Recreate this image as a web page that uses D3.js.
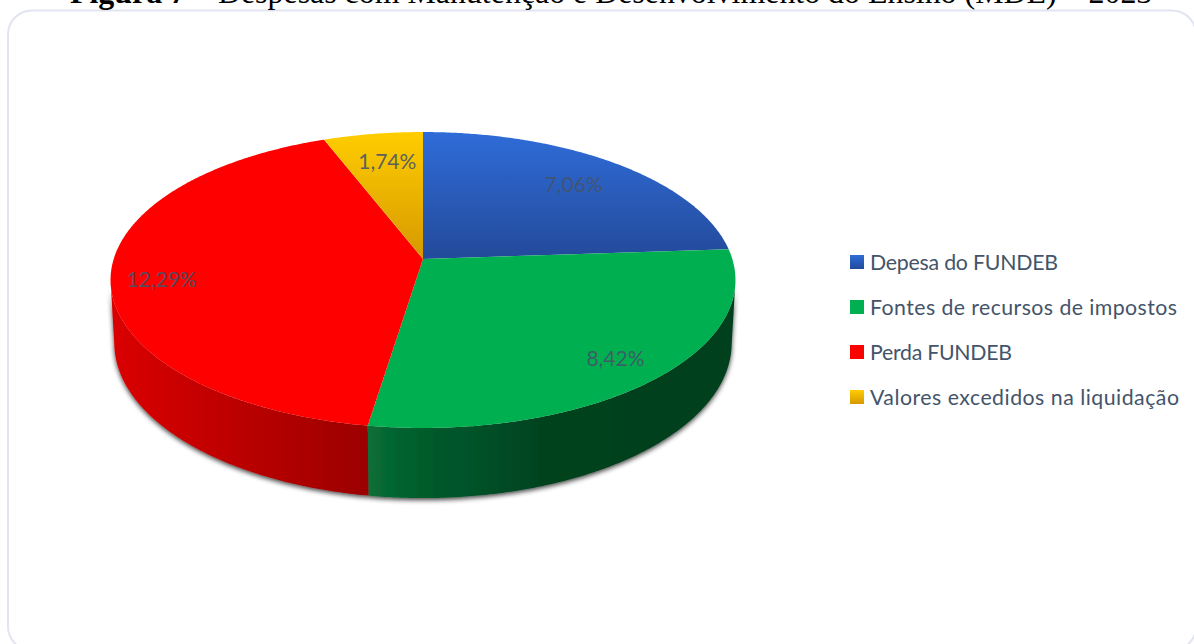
<!DOCTYPE html>
<html lang="pt">
<head>
<meta charset="utf-8">
<title>Despesas com MDE</title>
<script src="https://cdnjs.cloudflare.com/ajax/libs/d3/7.8.5/d3.min.js"></script>
<style>
  html, body { margin: 0; padding: 0; background: #fff; overflow: hidden; }
  svg { display: block; }
</style>
</head>
<body>
<svg id="chart" width="1194" height="644"></svg>
<script>
// Chart content
const categories = ["Depesa do FUNDEB", "Fontes de recursos de impostos", "Perda FUNDEB", "Valores excedidos na liquidação"];
const values = [7.06, 8.42, 12.29, 1.74];
const valueLabels = ["7,06%", "8,42%", "12,29%", "1,74%"];
const titleBold = "Figura 7";
const titleRest = " – Despesas com Manutenção e Desenvolvimento do Ensino (MDE) – 2023";

// Slice paint and label placement, in slice order
const topFills = ["url(#grad-blue)", "#00b050", "#ff0000", "url(#grad-yellow)"];
const gradientStops = {
  "grad-blue": ["#2f6cd8", "#234a9a"],
  "grad-yellow": ["#ffcd00", "#d69800"]
};
const labelRadius = [0.77, 0.84, 0.84, 0.765];
const labelTurnDegrees = [0, 0, -3, 1];
const legendTextWidths = [188, 307, 142, 309];

// Perspective camera for the tilted disc: u runs left-right, v back-front,
// z is the depth of the extruded wall (0 on the top face, 1 on the underside).
const camera = { x0: 423, y0: 259, spanX: 309.3, spanY: 145, drop: 63, tilt: -0.1419, recede: 0.012 };
function project(u, v, z) {
  const w = 1 + camera.tilt * v + camera.recede * z;
  return [camera.x0 + camera.spanX * u / w, camera.y0 + (camera.spanY * v + camera.drop * z) / w];
}
const rim = (a, z, r = 1) => project(r * Math.sin(a), -r * Math.cos(a), z);

// Wall shading follows the horizontal position on the disc
const wallShade = [
  d3.scaleLinear().domain([-1, 1]).range(["#1f4a96", "#1f4a96"]),
  d3.scaleLinear().domain([-0.18, -0.07, 0, 0.19, 0.38, 1])
    .range(["#0a7038", "#03622e", "#025c2b", "#025028", "#03431f", "#033f1e"]).clamp(true),
  d3.scaleLinear().domain([-1, -0.15]).range(["#da0000", "#990000"]).clamp(true),
  d3.scaleLinear().domain([-1, 1]).range(["#cc9a00", "#cc9a00"])
];

const svg = d3.select("#chart");
const defs = svg.append("defs");
Object.entries(gradientStops).forEach(([id, stops]) => {
  const g = defs.append("linearGradient").attr("id", id).attr("x1", 0).attr("y1", 0).attr("x2", 0).attr("y2", 1);
  g.append("stop").attr("offset", "0%").attr("stop-color", stops[0]);
  g.append("stop").attr("offset", "100%").attr("stop-color", stops[1]);
});
const shadow = defs.append("filter").attr("id", "wall-shadow")
  .attr("x", "-5%").attr("y", "-5%").attr("width", "110%").attr("height", "115%");
shadow.append("feGaussianBlur").attr("in", "SourceAlpha").attr("stdDeviation", 2.4).attr("result", "soft");
shadow.append("feOffset").attr("in", "soft").attr("dx", 0).attr("dy", 2).attr("result", "moved");
shadow.append("feComponentTransfer").attr("in", "moved").attr("result", "faint")
  .append("feFuncA").attr("type", "linear").attr("slope", 0.75);
const merge = shadow.append("feMerge");
merge.append("feMergeNode").attr("in", "faint");
merge.append("feMergeNode").attr("in", "SourceGraphic");

// Chart frame, running off the right and bottom of the page
svg.append("rect").attr("x", 8).attr("y", 10.5).attr("width", 1188).attr("height", 640).attr("rx", 24)
  .attr("fill", "#fff").attr("stroke", "#e2e5ef").attr("stroke-width", 2);

// Title, cut by the top of the page
const title = svg.append("text").attr("x", 70).attr("y", 3)
  .attr("font-family", "'Liberation Serif', serif").attr("font-size", 31.9).attr("fill", "#000");
title.append("tspan").attr("font-weight", "bold").text(titleBold);
title.append("tspan").text(titleRest);

// Slice angles: clockwise from twelve o'clock, in data order
const slices = d3.pie().sort(null)(values);
const step = Math.PI / 360;
const line = d3.line();
const rimAngles = s => d3.range(s.startAngle, s.endAngle, step).concat(s.endAngle);

// Side walls: one outline per slice, filled with a left-to-right gradient.
// Only the arc between the two silhouette tangents faces the viewer.
const walls = svg.append("g").attr("filter", "url(#wall-shadow)");
slices.forEach((s, i) => {
  const angles = rimAngles(s).filter(a => -Math.cos(a) >= -camera.tilt);
  if (angles.length < 2) return;
  const grad = defs.append("linearGradient").attr("id", `wall-${i}`).attr("gradientUnits", "userSpaceOnUse")
    .attr("x1", project(-1, 0, 0)[0]).attr("x2", project(1, 0, 0)[0]).attr("y1", 0).attr("y2", 0);
  d3.range(0, 1.0001, 0.01).forEach(t => {
    grad.append("stop").attr("offset", t).attr("stop-color", wallShade[i](t * 2 - 1));
  });
  const outline = [...angles.map(a => rim(a, 0)), ...angles.slice().reverse().map(a => rim(a, 1))];
  walls.append("path").attr("d", line(outline) + "Z").attr("fill", `url(#wall-${i})`);
});

// Top face
const faces = svg.append("g");
slices.forEach((s, i) => {
  faces.append("path")
    .attr("d", line([project(0, 0, 0), ...rimAngles(s).map(a => rim(a, 0))]) + "Z")
    .attr("fill", topFills[i]);
});

// Value labels near the middle of each slice
const labelFont = "Lato, Carlito, Calibri, sans-serif";
slices.forEach((s, i) => {
  const mid = (s.startAngle + s.endAngle) / 2 + labelTurnDegrees[i] * Math.PI / 180;
  const [x, y] = rim(mid, 0, labelRadius[i]);
  svg.append("text").attr("x", x).attr("y", y).attr("text-anchor", "middle").attr("dominant-baseline", "central")
    .attr("font-family", labelFont).attr("font-size", 21).attr("fill", "#44546a").attr("fill-opacity", 0.9)
    .text(valueLabels[i]);
});

// Legend
const legendY = d3.scalePoint().domain(categories).range([262, 397]);
const legend = svg.append("g");
categories.forEach((name, i) => {
  legend.append("rect").attr("x", 850).attr("y", legendY(name) - 7).attr("width", 14).attr("height", 14)
    .attr("fill", topFills[i]);
  legend.append("text").attr("x", 870).attr("y", legendY(name)).attr("dominant-baseline", "central")
    .attr("font-family", labelFont).attr("font-size", 21.3).attr("fill", "#44546a")
    .attr("textLength", legendTextWidths[i]).attr("lengthAdjust", "spacing").text(name);
});
</script>
</body>
</html>
